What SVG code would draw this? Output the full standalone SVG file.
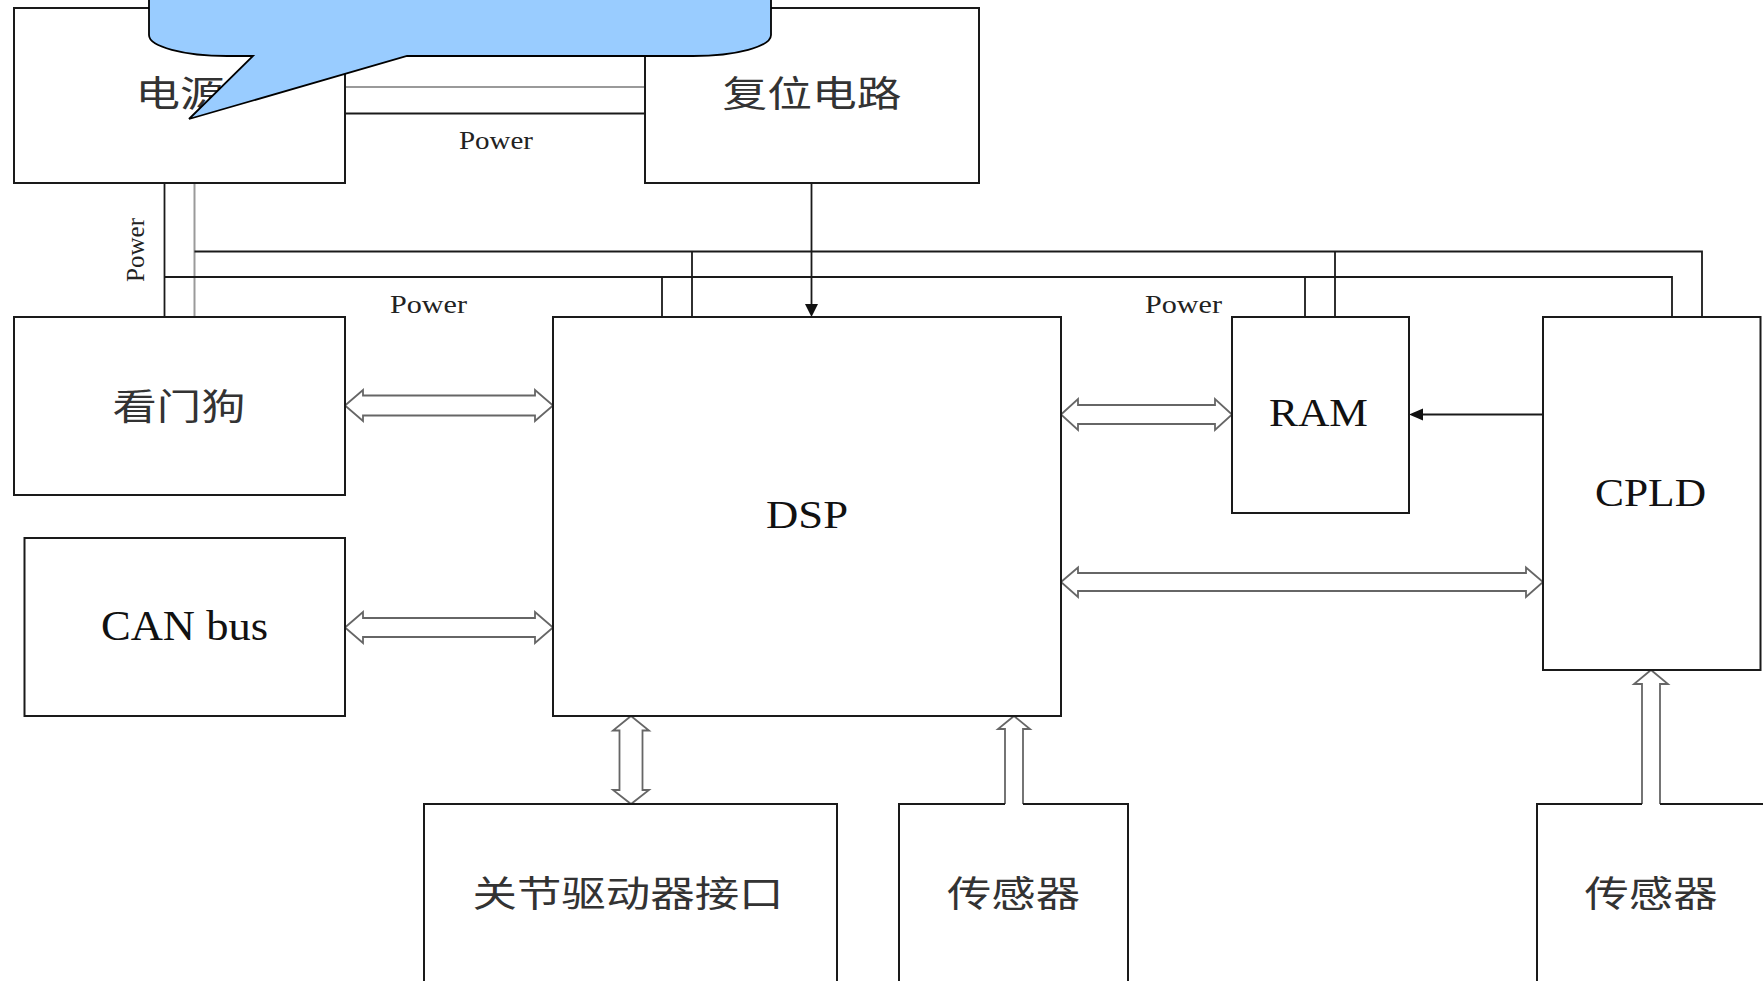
<svg xmlns="http://www.w3.org/2000/svg" width="1763" height="981" viewBox="0 0 1763 981">
<style>
.box{fill:#fff;stroke:#1a1a1a;stroke-width:2}
.ln{fill:none;stroke:#1a1a1a;stroke-width:1.8}
.gl{fill:none;stroke:#9a9a9a;stroke-width:2}
.dbl{fill:#fff;stroke:#666;stroke-width:1.8;stroke-linejoin:miter}
.cjk{font-family:"Noto Sans CJK SC","Noto Sans CJK JP",sans-serif;font-size:36px;fill:#333;text-anchor:middle}
.lat{font-family:"Liberation Serif","Times New Roman",serif;fill:#111;text-anchor:middle}
.pw{font-family:"Liberation Serif","Times New Roman",serif;font-size:26px;fill:#222;text-anchor:middle}
</style>
<rect width="1763" height="981" fill="#fff"/>

<g id="connectors">
  <path class="gl" d="M345,87 H645"/>
  <path class="ln" d="M345,113.5 H645"/>
  <path class="ln" d="M164.5,183 V317"/>
  <path class="gl" d="M194.5,183 V317"/>
  <path class="ln" d="M194.5,251.5 H1702 V317"/>
  <path class="ln" d="M164.5,277 H1672 V317"/>
  <path class="ln" d="M692,251.5 V317"/>
  <path class="ln" d="M662,277 V317"/>
  <path class="ln" d="M1335,251.5 V317"/>
  <path class="ln" d="M1305,277 V317"/>
  <path class="ln" d="M811.5,183 V306"/>
  <polygon points="805,304 818,304 811.5,317" fill="#111"/>
  <path class="ln" d="M1543,414.5 H1420"/>
  <polygon points="1423,408.5 1423,420.5 1409,414.5" fill="#111"/>
  <!-- double arrows horizontal -->
  <path class="dbl" d="M345,405.5 L363,390 L363,395.5 L535,395.5 L535,390 L553,405.5 L535,421 L535,415.5 L363,415.5 L363,421 Z"/>
  <path class="dbl" d="M345,627.5 L363,612 L363,618 L535,618 L535,612 L553,627.5 L535,643 L535,637 L363,637 L363,643 Z"/>
  <path class="dbl" d="M1061,414.5 L1078,399 L1078,405 L1215,405 L1215,399 L1232,414.5 L1215,430 L1215,424 L1078,424 L1078,430 Z"/>
  <path class="dbl" d="M1061,582 L1078,567.5 L1078,573 L1526,573 L1526,567.5 L1543,582 L1526,597 L1526,591 L1078,591 L1078,597 Z"/>
  <!-- vertical double arrow DSP - joint -->
  <path class="dbl" d="M631,716 L649,730.5 L642.5,730.5 L642.5,790 L649,790 L631,804 L613,790 L619.5,790 L619.5,730.5 L613,730.5 Z"/>
  <!-- sensor up arrows -->
  <polygon points="1014,716 1030,729 1023,729 1023,806 1005,806 1005,729 998,729" fill="#fff"/>
  <polyline class="dbl" style="fill:none" points="1005,804 1005,729 998,729 1014,716 1030,729 1023,729 1023,804"/>
  <polygon points="1651,670 1668,684 1660,684 1660,806 1642,806 1642,684 1634,684" fill="#fff"/>
  <polyline class="dbl" style="fill:none" points="1642,804 1642,684 1634,684 1651,670 1668,684 1660,684 1660,804"/>
  <text class="pw" x="496" y="149" textLength="74" lengthAdjust="spacingAndGlyphs">Power</text>
  <text class="pw" x="428.5" y="312.5" textLength="77" lengthAdjust="spacingAndGlyphs">Power</text>
  <text class="pw" x="1183.5" y="312.5" textLength="77" lengthAdjust="spacingAndGlyphs">Power</text>
  <text class="pw" transform="translate(144,250) rotate(-90)" x="0" y="0" textLength="64" lengthAdjust="spacingAndGlyphs">Power</text>
</g>

<g id="power">
  <rect class="box" x="14" y="8" width="331" height="175"/>
  <text class="cjk" x="180" y="107" textLength="89" lengthAdjust="spacingAndGlyphs">电源</text>
</g>
<g id="reset">
  <rect class="box" x="645" y="8" width="334" height="175"/>
  <text class="cjk" x="812" y="107" textLength="179" lengthAdjust="spacingAndGlyphs">复位电路</text>
</g>
<g id="watchdog">
  <rect class="box" x="14" y="317" width="331" height="178"/>
  <text class="cjk" x="179" y="420" textLength="133" lengthAdjust="spacingAndGlyphs">看门狗</text>
</g>
<g id="canbus">
  <rect class="box" x="24.5" y="538" width="320.5" height="178"/>
  <text class="lat" x="184.5" y="640" font-size="42" textLength="167" lengthAdjust="spacingAndGlyphs">CAN bus</text>
</g>
<g id="dsp">
  <rect class="box" x="553" y="317" width="508" height="399"/>
  <text class="lat" x="807" y="528" font-size="39" textLength="82" lengthAdjust="spacingAndGlyphs">DSP</text>
</g>
<g id="ram">
  <rect class="box" x="1232" y="317" width="177" height="196"/>
  <text class="lat" x="1318.5" y="426" font-size="39" textLength="99" lengthAdjust="spacingAndGlyphs">RAM</text>
</g>
<g id="cpld">
  <rect class="box" x="1543" y="317" width="217.5" height="353"/>
  <text class="lat" x="1650.5" y="505.5" font-size="40" textLength="111" lengthAdjust="spacingAndGlyphs">CPLD</text>
</g>
<g id="joint">
  <path class="box" d="M424,990 V804 H837 V990"/>
  <text class="cjk" x="628" y="907" textLength="311" lengthAdjust="spacingAndGlyphs">关节驱动器接口</text>
</g>
<g id="sensor1">
  <path class="box" style="fill:none" d="M899,990 V804 H1005 M1023,804 H1128 V990"/>
  <text class="cjk" x="1013.5" y="907" textLength="133" lengthAdjust="spacingAndGlyphs">传感器</text>
</g>
<g id="sensor2">
  <path class="box" style="fill:none" d="M1537,990 V804 H1642 M1660,804 H1770"/>
  <text class="cjk" x="1651" y="907" textLength="133" lengthAdjust="spacingAndGlyphs">传感器</text>
</g>

<g id="callout">
  <path d="M149,-20 L149,35 A78 21 0 0 0 227,56 L253,56 L189,119 L407,56 L693,56 A78 21 0 0 0 771,35 L771,-20 Z" fill="#99CCFF" stroke="#000" stroke-width="1.8" stroke-linejoin="miter"/>
</g>
</svg>
